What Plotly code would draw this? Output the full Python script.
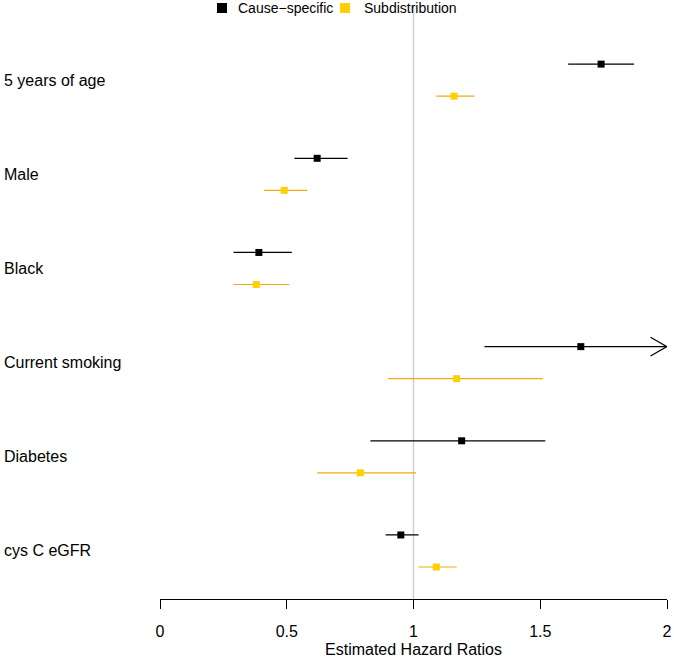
import plotly.graph_objects as go

categories = ["5 years of age", "Male", "Black", "Current smoking", "Diabetes", "cys C eGFR"]

cs_est = [1.74, 0.62, 0.39, 1.66, 1.19, 0.95]
cs_lo = [1.61, 0.53, 0.29, 1.28, 0.83, 0.89]
cs_hi = [1.87, 0.74, 0.52, 2.40, 1.52, 1.02]

sd_est = [1.16, 0.49, 0.38, 1.17, 0.79, 1.09]
sd_lo = [1.09, 0.41, 0.29, 0.90, 0.62, 1.02]
sd_hi = [1.24, 0.58, 0.51, 1.51, 1.01, 1.17]

series_names = ["Cause\u2212specific", "Subdistribution"]

x_ticks = [0, 0.5, 1, 1.5, 2]
x_max = 2.0

FONT = "Liberation Sans, Arial, sans-serif"
CS_COLOR = "#000000"
SD_LINE = "#F2AA10"
SD_MARK = "#FFD000"
OFF = 0.17

fig = go.Figure()


def seg_xy(lo, hi, ys):
    xs, yy = [], []
    for a, b, y in zip(lo, hi, ys):
        xs += [max(a, 0), min(b, x_max), None]
        yy += [y, y, None]
    return xs, yy


cs_y = [i - OFF for i in range(len(categories))]
sd_y = [i + OFF for i in range(len(categories))]

xs, ys = seg_xy(cs_lo, cs_hi, cs_y)
fig.add_trace(go.Scatter(x=xs, y=ys, mode="lines", line=dict(color=CS_COLOR, width=1.2),
                         showlegend=False, hoverinfo="skip"))
xs, ys = seg_xy(sd_lo, sd_hi, sd_y)
fig.add_trace(go.Scatter(x=xs, y=ys, mode="lines", line=dict(color=SD_LINE, width=1.2),
                         showlegend=False, hoverinfo="skip"))

# open arrowheads for CIs truncated at the axis limit
ax, ay = [], []
for hi, y in zip(cs_hi, cs_y):
    if hi > x_max:
        ax += [x_max - 0.065, x_max, x_max - 0.065, None]
        ay += [y - 0.1, y, y + 0.1, None]
if ax:
    fig.add_trace(go.Scatter(x=ax, y=ay, mode="lines", line=dict(color=CS_COLOR, width=1.2),
                             showlegend=False, hoverinfo="skip", cliponaxis=False))

fig.add_trace(go.Scatter(x=cs_est, y=cs_y, mode="markers", name=series_names[0],
                         marker=dict(symbol="square", size=7, color=CS_COLOR), showlegend=False))
fig.add_trace(go.Scatter(x=sd_est, y=sd_y, mode="markers", name=series_names[1],
                         marker=dict(symbol="square", size=7, color=SD_MARK), showlegend=False))

# reference line at HR = 1
fig.add_shape(type="line", x0=1, x1=1, xref="x", y0=0, y1=0.99, yref="paper",
              line=dict(color="#CFCFCF", width=1.5), layer="below")

# legend (R-style: square key followed closely by label)
legend_keys = [(0.1223, 0.1499, CS_COLOR), (0.3649, 0.3984, SD_MARK)]
LEG_Y = 0.9866
for name, (kx, tx, col) in zip(series_names, legend_keys):
    fig.add_shape(type="rect", xref="paper", yref="paper", xsizemode="pixel", ysizemode="pixel",
                  xanchor=kx, yanchor=LEG_Y, x0=-5, x1=5, y0=-5, y1=5,
                  fillcolor=col, line=dict(width=0))
    fig.add_annotation(x=tx, xref="paper", y=LEG_Y, yref="paper", text=name, showarrow=False,
                       xanchor="left", yanchor="middle", font=dict(size=14, color="#000", family=FONT))

for i, c in enumerate(categories):
    fig.add_annotation(x=-0.311, xref="paper", y=i, yref="y", text=c, showarrow=False,
                       xanchor="left", yanchor="middle", font=dict(size=16, color="#000", family=FONT))

fig.update_layout(
    width=674, height=658,
    margin=dict(l=160, r=7, t=0, b=59, autoexpand=False),
    plot_bgcolor="white", paper_bgcolor="white",
    font=dict(family=FONT, color="#000"),
    showlegend=False,
    xaxis=dict(range=[0, x_max], tickvals=x_ticks, ticktext=[str(t) for t in x_ticks],
               showgrid=False, zeroline=False, showline=True, linecolor="#000", linewidth=1,
               ticks="outside", ticklen=9, tickcolor="#000", tickwidth=1,
               tickfont=dict(size=16), ticklabelstandoff=9, automargin=False,
               title=dict(text="Estimated Hazard Ratios", font=dict(size=16), standoff=4)),
    yaxis=dict(range=[5.51, -0.851], showgrid=False, zeroline=False, showticklabels=False,
               showline=False, ticks="", automargin=False),
)

fig.write_html("out.html", config={"displayModeBar": False},
               post_script="document.body.style.margin='0';")
